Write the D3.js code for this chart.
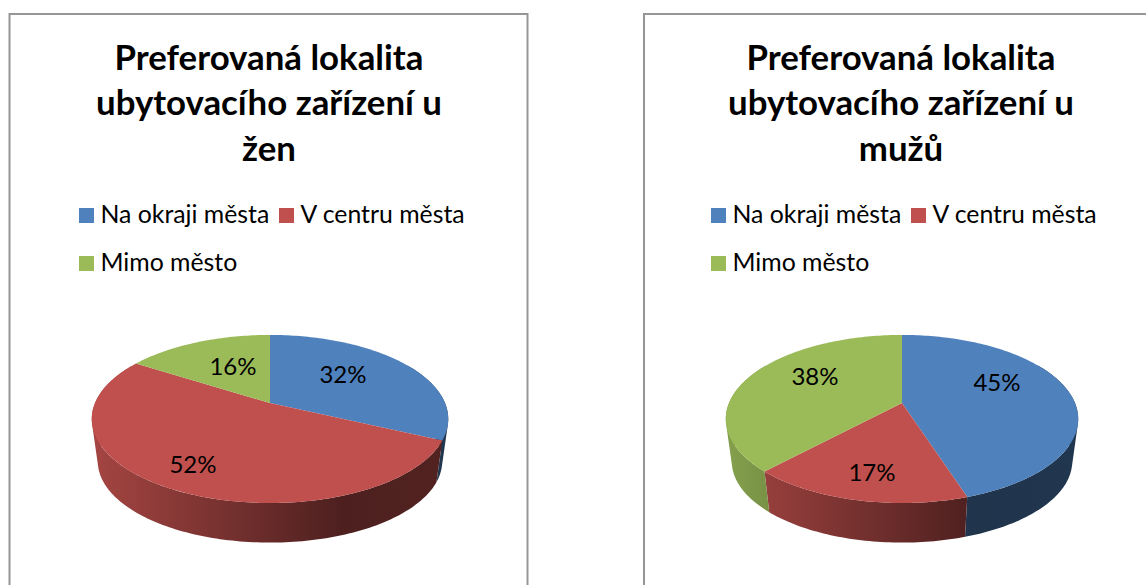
<!DOCTYPE html>
<html>
<head>
<meta charset="utf-8">
<script src="https://cdn.jsdelivr.net/npm/d3@7"></script>
<style>
html, body { margin: 0; padding: 0; background: #fff; overflow: hidden; }
text { font-family: Lato, "Noto Sans", sans-serif; fill: #000; }
</style>
</head>
<body>
<script>
var categories = ["Na okraji města", "V centru města", "Mimo město"];
var colors = ["#4f81bd", "#c0504d", "#9bbb59"];
var titleLinesF = ["Preferovaná lokalita", "ubytovacího zařízení u", "žen"];
var titleLinesM = ["Preferovaná lokalita", "ubytovacího zařízení u", "mužů"];
var valuesF = [32, 52, 16];
var valuesM = [45, 17, 38];

var width = 1146;
var height = 585;

// label spots relative to the pie apex, same order as the categories
var labelSpotsF = [[73, -29], [-77, 61], [-37, -37]];
var labelSpotsM = [[95, -21], [-30, 69], [-87, -27]];

// pie is drawn in perspective: the far side shrinks, so apex sits above ellipse centre
var persp = 0.19;
var squash = 81;
var wallScale = 0.966;
var wallDrop = 43;

var svg = d3.select("body").append("svg")
    .attr("width", width)
    .attr("height", height);
var defs = svg.append("defs");

function shade(color, k){
    var c = d3.rgb(color);
    return d3.rgb(c.r * k, c.g * k, c.b * k).formatHex();
}

function drawChart(id, offsetX, frameX, radius, titleLines, values, labelSpots){
    var g = svg.append("g").attr("transform", "translate(" + offsetX + ",0)");
    var cx = 270;
    var cy = 403;
    var line = d3.line();

    function project(angle, y0, scale){
        var u = Math.sin(angle);
        var v = Math.cos(angle);
        var w = 1 + persp * v;
        return [cx + radius * scale * u / w, y0 - squash * scale * v / w];
    }

    function rim(a0, a1, y0, scale){
        var n = Math.max(2, Math.ceil((a1 - a0) / 0.02));
        return d3.range(n + 1).map(function(i){
            return project(a0 + (a1 - a0) * i / n, y0, scale);
        });
    }

    svg.insert("rect", "g")
        .attr("x", frameX)
        .attr("y", 14)
        .attr("width", 518)
        .attr("height", 620)
        .style("fill", "#fff")
        .style("stroke", "#969696")
        .style("stroke-width", 2);

    g.selectAll("text.title")
            .data(titleLines)
        .enter().append("text")
            .classed("title", true)
            .attr("x", 269)
            .attr("y", function(d, i){ return 69.5 + i * 45.7; })
            .style("font-size", "34.8px")
            .style("font-weight", "bold")
            .style("text-anchor", "middle")
            .text(function(d){ return d; });

    // legend wraps after the second entry
    var legendX = [79, 279, 79];
    var legendY = [208, 208, 256];
    var legend = g.selectAll("g.legend")
            .data(categories)
        .enter().append("g")
            .classed("legend", true)
            .attr("transform", function(d, i){
                return "translate(" + legendX[i] + "," + legendY[i] + ")";
            });
    legend.append("rect")
        .attr("width", 15)
        .attr("height", 15)
        .style("fill", function(d, i){ return colors[i]; });
    legend.append("text")
        .attr("x", 21.5)
        .attr("y", 15)
        .style("font-size", "24.8px")
        .text(function(d){ return d; });

    var arcs = d3.pie().sort(null)(values);

    // outer wall first, only the part that faces the viewer
    var wallMin = Math.PI / 3;
    var wallMax = Math.PI * 5 / 3;
    arcs.forEach(function(d, i){
        var a0 = Math.max(d.startAngle, wallMin);
        var a1 = Math.min(d.endAngle, wallMax);
        if ( a1 <= a0 ) {
            return;
        }
        var gradId = id + "-wall-" + i;
        var grad = defs.append("linearGradient")
            .attr("id", gradId)
            .attr("gradientUnits", "userSpaceOnUse")
            .attr("x1", cx - 178)
            .attr("x2", cx + 178)
            .attr("y1", 0)
            .attr("y2", 0);
        [[0, 0.86], [0.7, 0.4], [1, 0.42]].forEach(function(s){
            grad.append("stop")
                .attr("offset", s[0])
                .attr("stop-color", shade(colors[i], s[1]));
        });
        // one quad per step, all wound the same way, so the union gets a straight silhouette
        var upper = rim(a0, a1, cy, 1);
        var lower = rim(a0, a1, cy + wallDrop, wallScale);
        var quads = d3.range(upper.length - 1).map(function(k){
            var q = [upper[k], upper[k+1], lower[k+1], lower[k]];
            if ( d3.polygonArea(q) < 0 ) {
                q.reverse();
            }
            return line(q) + "Z";
        });
        g.append("path")
            .attr("d", quads.join(""))
            .style("fill", "url(#" + gradId + ")");
    });

    g.selectAll("path.slice")
            .data(arcs)
        .enter().append("path")
            .classed("slice", true)
            .attr("d", function(d){
                return line([[cx, cy]].concat(rim(d.startAngle, d.endAngle, cy, 1))) + "Z";
            })
            .style("fill", function(d, i){ return colors[i]; });

    g.selectAll("text.label")
            .data(values)
        .enter().append("text")
            .classed("label", true)
            .attr("x", function(d, i){ return cx + labelSpots[i][0]; })
            .attr("y", function(d, i){ return cy + labelSpots[i][1]; })
            .attr("dy", "0.36em")
            .style("font-size", "24px")
            .style("text-anchor", "middle")
            .text(function(d){ return d + "%"; });
}

drawChart("f", 0, 9.5, 175, titleLinesF, valuesF, labelSpotsF);
drawChart("m", 632, 644, 173, titleLinesM, valuesM, labelSpotsM);
</script>
</body>
</html>
